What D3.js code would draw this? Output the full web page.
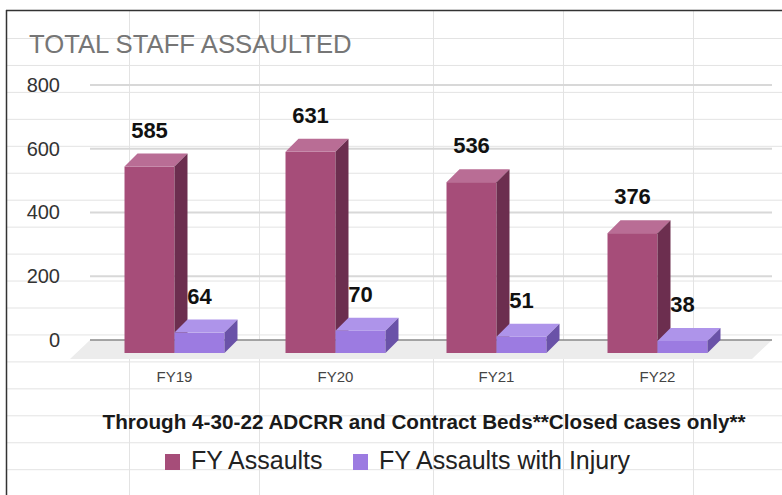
<!DOCTYPE html>
<meta charset="utf-8">
<head>
  <title>Total staff assaulted</title>
</head>
<style>
body {
  margin: 0;
  background: #fff;
  font-family: "Liberation Sans", Arial, sans-serif;
}
</style>
<body>
<svg width=782 height=495></svg>
<script src="https://cdnjs.cloudflare.com/ajax/libs/d3/7.8.5/d3.min.js"></script>
<script>
var categories = ["FY19", "FY20", "FY21", "FY22"];
var series = ["FY Assaults", "FY Assaults with Injury"];
var assaults = [585, 631, 536, 376];
var injury = [64, 70, 51, 38];
var yTicks = [0, 200, 400, 600, 800];

var colors = {
  "FY Assaults": {front: "#a64d79", top: "#b96d95", side: "#6c2e4f"},
  "FY Assaults with Injury": {front: "#9c7be1", top: "#ae94ea", side: "#6a52a8"}
};

var svg = d3.select("svg");
var depth = 13;
var base = 353;

// spreadsheet cells behind the chart
var sheet = svg.append("g");
[129.5, 259.5, 433.5, 563.5, 693.5].forEach(function(x) {
  sheet.append("line").attr("x1", x).attr("x2", x).attr("y1", 11).attr("y2", 495)
    .attr("stroke", "#e3e3e3");
});
for (var r = 0; r < 17; r++) {
  var yy = 38.5 + r * 26.95;
  sheet.append("line").attr("x1", 7).attr("x2", 782).attr("y1", yy).attr("y2", yy)
    .attr("stroke", "#e3e3e3");
}
sheet.append("line").attr("x1", 6).attr("x2", 782).attr("y1", 10.5).attr("y2", 10.5)
  .attr("stroke", "#333").attr("stroke-width", 1.5);
sheet.append("line").attr("x1", 6.5).attr("x2", 6.5).attr("y1", 10).attr("y2", 495)
  .attr("stroke", "#333").attr("stroke-width", 1.5);

var y = d3.scaleLinear().domain([0, 800]).range([base - depth, base - depth - 255]);
var x0 = d3.scaleBand().domain(categories).range([94, 738])
  .paddingInner(0.379).paddingOuter(0.1895);
var x1 = d3.scaleBand().domain(series).range([0, x0.bandwidth()]);

// floor
svg.append("polygon")
  .attr("points", [[90, y(0)], [772, y(0)], [752, base + 6], [70, base + 6]].join(" "))
  .attr("fill", "#ececec");

// gridlines
svg.append("g").selectAll("line")
  .data(yTicks.filter(function(d){ return d > 0; }))
  .enter().append("line")
  .attr("x1", 90).attr("x2", 772)
  .attr("y1", function(d){ return y(d); })
  .attr("y2", function(d){ return y(d); })
  .attr("stroke", "#d8d8d8").attr("stroke-width", 2);

svg.append("line")
  .attr("x1", 90).attr("x2", 772).attr("y1", y(0)).attr("y2", y(0))
  .attr("stroke", "#8a8a8a").attr("stroke-width", 1.5);

var yAxis = d3.axisLeft(y).tickValues(yTicks).tickSize(0).tickPadding(0);
svg.append("g")
  .attr("transform", "translate(60,0)")
  .call(yAxis)
  .call(function(g){ g.select(".domain").remove(); })
  .selectAll("text")
  .attr("font-family", "'Liberation Sans', Arial, sans-serif")
  .attr("font-size", 20)
  .attr("fill", "#333");

var rows = [];
categories.forEach(function(c, i) {
  rows.push({cat: c, s: series[0], v: assaults[i]});
  rows.push({cat: c, s: series[1], v: injury[i]});
});

function bx(d) { return x0(d.cat) + x1(d.s); }
function fy(d) { return y(d.v) + depth; }

var bars = svg.append("g").selectAll("g")
  .data(rows)
  .enter().append("g");

bars.append("rect")
  .attr("x", bx)
  .attr("y", fy)
  .attr("width", x1.bandwidth())
  .attr("height", function(d){ return base - fy(d); })
  .attr("fill", function(d){ return colors[d.s].front; });

bars.append("polygon")
  .attr("points", function(d) {
    var x = bx(d), w = x1.bandwidth(), t = fy(d);
    return [[x, t], [x + depth, t - depth], [x + w + depth, t - depth], [x + w, t]].join(" ");
  })
  .attr("fill", function(d){ return colors[d.s].top; });

bars.append("polygon")
  .attr("points", function(d) {
    var x = bx(d) + x1.bandwidth(), t = fy(d);
    return [[x, t], [x + depth, t - depth], [x + depth, base - depth], [x, base]].join(" ");
  })
  .attr("fill", function(d){ return colors[d.s].side; });

svg.append("g").selectAll("text")
  .data(rows)
  .enter().append("text")
  .attr("x", function(d){ return bx(d) + x1.bandwidth() / 2; })
  .attr("y", function(d){ return y(d.v) - 16; })
  .attr("text-anchor", "middle")
  .attr("font-size", 22)
  .attr("font-weight", "bold")
  .attr("fill", "#111")
  .text(function(d){ return d.v; });

svg.append("g").selectAll("text")
  .data(categories)
  .enter().append("text")
  .attr("x", function(d){ return x0(d) + x0.bandwidth() / 2; })
  .attr("y", 382)
  .attr("text-anchor", "middle")
  .attr("font-size", 15)
  .attr("fill", "#444")
  .text(function(d){ return d; });

svg.append("text")
  .attr("x", 29).attr("y", 53)
  .attr("font-size", 25.7)
  .attr("fill", "#767676")
  .text("TOTAL STAFF ASSAULTED");

svg.append("text")
  .attr("x", 424).attr("y", 429)
  .attr("text-anchor", "middle")
  .attr("font-size", 20.7)
  .attr("font-weight", "bold")
  .attr("fill", "#1a1a1a")
  .text("Through 4-30-22 ADCRR and Contract Beds**Closed cases only**");

var legend = svg.append("g").selectAll("g")
  .data(series)
  .enter().append("g")
  .attr("transform", function(d, i){ return "translate(" + [165, 353][i] + ",454)"; });
legend.append("rect")
  .attr("width", 15).attr("height", 16)
  .attr("fill", function(d){ return colors[d].front; });
legend.append("text")
  .attr("x", 26).attr("y", 15)
  .attr("font-size", 25)
  .attr("fill", "#222")
  .text(function(d){ return d; });
</script>
</body>
</html>
